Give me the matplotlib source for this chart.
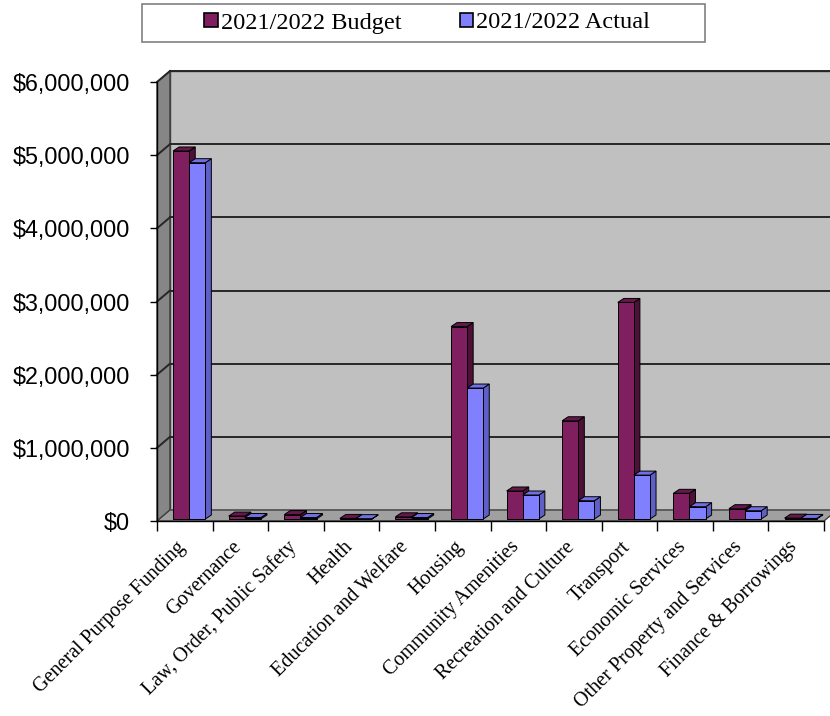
import matplotlib
matplotlib.use("Agg")
import matplotlib.pyplot as plt
from matplotlib.patches import Polygon, Patch, Rectangle
from matplotlib.transforms import ScaledTranslation
import numpy as np

categories = ["General Purpose Funding", "Governance", "Law, Order, Public Safety",
              "Health", "Education and Welfare", "Housing", "Community Amenities",
              "Recreation and Culture", "Transport", "Economic Services",
              "Other Property and Services", "Finance & Borrowings"]
budget = [5030000, 40000, 60000, 8000, 30000, 2630000, 383000, 1343000,
          2960000, 351000, 141000, 12000]
actual = [4870000, 20000, 20000, 5000, 20000, 1790000, 328000, 250000,
          600000, 168000, 113000, 8000]
yticks = [0, 1000000, 2000000, 3000000, 4000000, 5000000, 6000000]
series_names = ["2021/2022 Budget", "2021/2022 Actual"]

W, H = 830, 716
fig = plt.figure(figsize=(W / 100, H / 100), dpi=100)
L, R, B, T = 157, 824, 521, 82
ax = fig.add_axes([L / W, 1 - B / H, (R - L) / W, (B - T) / H])
n = len(categories)
ymax = 6000000
ax.set_xlim(0, n)
ax.set_ylim(0, ymax)
sx = n / (R - L)
sy = ymax / (B - T)
for s in ax.spines.values():
    s.set_visible(False)

DX, DY = 13, 11
# walls
left_wall = Polygon([(0, 0), (DX * sx, DY * sy), (DX * sx, ymax + DY * sy), (0, ymax)],
                    closed=True, facecolor="#868686", edgecolor="#404040", lw=1.0,
                    clip_on=False, zorder=0)
back_wall = Polygon([(DX * sx, DY * sy), (n + DX * sx, DY * sy), (n + DX * sx, ymax + DY * sy),
                     (DX * sx, ymax + DY * sy)], closed=True, facecolor="#c0c0c0",
                    edgecolor="#404040", lw=1.0, clip_on=False, zorder=0)
floor = Polygon([(0, 0), (n, 0), (n + DX * sx, DY * sy), (DX * sx, DY * sy)], closed=True,
                facecolor="#a0a0a0", edgecolor="#404040", lw=1.0, clip_on=False, zorder=1)
ax.add_patch(left_wall)
ax.add_patch(back_wall)
ax.add_patch(floor)
for v in yticks[1:]:
    ax.plot([DX * sx, n + DX * sx], [v + DY * sy, v + DY * sy], color="#262626", lw=1.4,
            clip_on=False, zorder=1)
    ax.plot([0, DX * sx], [v, v + DY * sy], color="#262626", lw=1.4, clip_on=False, zorder=1)

# bars
colors = {"b": ("#7f1f5f", "#4f1038", "#66184c"), "a": ("#8080ff", "#5f5fc8", "#7070e6")}
bw = 0.29
base = 2 * sy
ddx, ddy = 6 * sx, 4 * sy
x = np.arange(n)
for i in range(n):
    for key, vals, off in (("b", budget, 0.29), ("a", actual, 0.58)):
        front, side, top = colors[key]
        xl = i + off
        xr = xl + bw
        h = vals[i]
        ax.add_patch(Polygon([(xr, base), (xr + ddx, base + ddy), (xr + ddx, base + h + ddy),
                              (xr, base + h)], closed=True, facecolor=side, edgecolor="black",
                             lw=0.7, clip_on=False, zorder=3))
        ax.add_patch(Polygon([(xl, base + h), (xl + ddx, base + h + ddy),
                              (xr + ddx, base + h + ddy), (xr, base + h)], closed=True,
                             facecolor=top, edgecolor="black", lw=0.7, clip_on=False, zorder=3))
        ax.bar([xl], [h], width=bw, bottom=base, align="edge", color=front, edgecolor="black",
               lw=0.7, zorder=3, clip_on=False)

# axes lines
ax.plot([0, 0], [0, ymax], color="black", lw=1.0, clip_on=False, zorder=2)
ax.plot([0, n], [0, 0], color="black", lw=1.0, clip_on=False, zorder=2)

ax.set_yticks(yticks)
ax.set_yticklabels(["${:,.0f}".format(v) for v in yticks], fontfamily="Liberation Sans",
                   fontsize=16.8)
ax.tick_params(axis="y", length=5, direction="out", pad=14.5, width=1)
ax.set_xticks(x + 0.5)
ax.set_xticks(np.arange(n + 1), minor=True)
ax.set_xticklabels(categories, rotation=45, ha="right", va="top",
                   fontfamily="Liberation Serif", fontsize=14.5)
ax.tick_params(axis="x", which="major", length=0, pad=12)
ax.tick_params(axis="x", which="minor", length=7, direction="out", width=1)
for lab in ax.get_xticklabels():
    lab.set_transform(lab.get_transform() + ScaledTranslation(5 / 100, 0, fig.dpi_scale_trans))

# legend
fig.patches.append(Rectangle((142 / W, 1 - 42 / H), (705 - 142) / W, 38 / H,
                             transform=fig.transFigure, facecolor="white",
                             edgecolor="#808080", lw=1.2))
handles = [Patch(facecolor=colors["b"][0], edgecolor="black", lw=1.2),
           Patch(facecolor=colors["a"][0], edgecolor="black", lw=1.2)]
fig.legend(handles, series_names, ncol=2, loc="center", bbox_to_anchor=(427 / W, 1 - 23 / H),
           frameon=False, prop={"family": "Liberation Serif", "size": 17.5},
           handlelength=0.55, handleheight=0.55, handletextpad=0.12, columnspacing=2.4,
           borderaxespad=0, borderpad=0)

fig.savefig("out.png", dpi=100)
